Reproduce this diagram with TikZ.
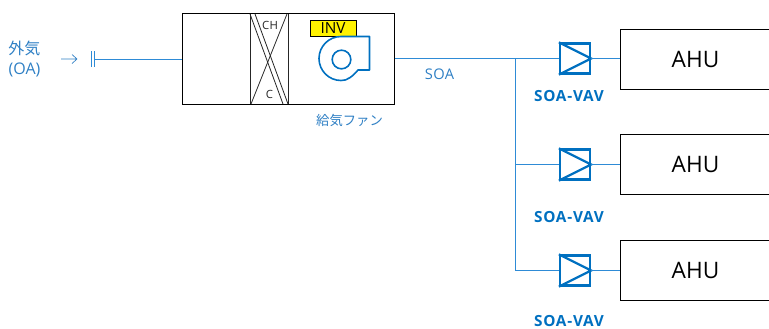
\documentclass[tikz,border=0pt]{standalone}
\usepackage{fontspec}
\setmainfont{Open Sans}
\newfontfamily\jpfont{Noto Sans CJK JP}
\newfontfamily\spaced[LetterSpace=3]{Open Sans}
\newfontfamily\spacedb[LetterSpace=5,BoldFont={Open Sans Bold}]{Open Sans}
\definecolor{lineblue}{HTML}{2E8BD6}
\definecolor{vavblue}{HTML}{0070C0}
\definecolor{txtblue}{HTML}{2E7FC4}
\tikzset{
  x=0.75pt,y=-0.75pt,
  ahubox/.style={draw=black,line width=0.75pt,minimum width=112.5pt,minimum height=45pt,inner sep=0pt,font=\fontsize{17}{17}\selectfont,text=black},
  vavbox/.style={draw=vavblue,line width=1.7pt,minimum width=22.5pt,minimum height=22.5pt,inner sep=0pt},
  duct/.style={draw=lineblue,line width=0.75pt},
  vavlabel/.style={text=vavblue,font=\fontsize{11.5}{11.5}\selectfont\spacedb\bfseries,inner sep=0pt},
  bluetext/.style={text=txtblue,font=\fontsize{11}{11}\selectfont\spaced,inner sep=0pt},
  coilline/.style={draw=black!85,line width=0.6pt},
  coillabel/.style={text=black!85,font=\fontsize{8.5}{8.5}\selectfont\spaced,inner sep=0pt},
}
\begin{document}
\begin{tikzpicture}
\useasboundingbox (0,0) rectangle (769,329);
% unit box
\node[draw=black,line width=0.75pt,minimum width=159pt,minimum height=68pt,inner sep=0pt] (unit) at (288,59) {};
\coordinate (coilTL) at (250,14); \coordinate (coilTR) at (288,14);
\coordinate (coilBL) at (250,104); \coordinate (coilBR) at (288,104);
\draw[coilline] (coilTL) -- (coilBL) (coilTR) -- (coilBR);
\draw[coilline] (250,14) -- (283,104) (255,14) -- (288,104);
\draw[coilline] (287,14) -- (251,104);
\node[coillabel] (ch) at (270,25.5) {CH};
\node[coillabel] (c) at (269.5,94.5) {C};
% INV
\node[draw=black,line width=0.7pt,fill=yellow,minimum width=34.5pt,minimum height=11.5pt,inner sep=0pt,text=black,font=\fontsize{11.5}{11.5}\selectfont] (inv) at (333,28.5) {INV};
% fan
\draw[draw=vavblue,line width=1.2pt,line join=round]
  (369.5,36.5) -- (341,36.5) arc[start angle=90,end angle=270,x radius=22,y radius=-22]
  .. controls (347,81) and (353,76) .. (358,70) -- (369.5,70) -- cycle;
\node[draw=vavblue,line width=1.2pt,circle,minimum size=14pt,inner sep=0pt] (fan) at (341.5,59.5) {};
% outside air
\node[bluetext,align=center,font=\fontsize{12}{14.5}\selectfont] (oa) at (24.5,59) {{\jpfont 外気}\\(OA)};
\coordinate (arrowS) at (61,59); \coordinate (arrowE) at (77,59);
\draw[draw=txtblue,line width=0.5pt] (arrowS) -- (arrowE) (72,54.5) -- (77,59) -- (72,63.5);
\coordinate (damp) at (95,59);
\draw[draw=lineblue,line width=0.9pt] (91.5,51) -- (91.5,67) (94.5,51) -- (94.5,67);
\draw[duct] (damp) -- (unit.west |- damp);
% VAV and AHU
\node[ahubox,anchor=west] (ahuA) at (620,59) {AHU};
\node[ahubox,anchor=west] (ahuB) at (620,164.5) {AHU};
\node[ahubox,anchor=west] (ahuC) at (620,270) {AHU};
\node[vavbox] (vavA) at (575,58.5) {};
\node[vavbox] (vavB) at (575,164.5) {};
\node[vavbox] (vavC) at (575,270.5) {};
\foreach \v in {vavA,vavB,vavC}{
  \draw[draw=vavblue,line width=1.7pt,line join=miter] (\v.north west) -- (\v.east) -- (\v.south west);
}
\node[vavlabel] (la) at (569,96) {SOA-VAV};
\node[vavlabel] (lb) at (569,217) {SOA-VAV};
\node[vavlabel] (lc) at (569,321) {SOA-VAV};
% ducts
\coordinate (branchA) at (515,58.5);
\coordinate (branchB) at (515,164.5);
\coordinate (branchC) at (515,270.5);
\draw[duct] (unit.east |- vavA) -- (vavA.west);
\draw[duct] (vavA.east) -- (ahuA.west |- vavA);
\draw[duct] (branchA) -- (branchC) -- (vavC.west);
\draw[duct] (branchB) -- (vavB.west);
\draw[duct] (vavB.east) -- (ahuB.west |- vavB);
\draw[duct] (vavC.east) -- (ahuC.west |- vavC);
\node[bluetext] (soa) at (439.5,74.5) {SOA};
\node[bluetext,font=\fontsize{10}{10}\selectfont\jpfont] (fanl) at (349.5,120) {給気ファン};
\end{tikzpicture}
\end{document}
